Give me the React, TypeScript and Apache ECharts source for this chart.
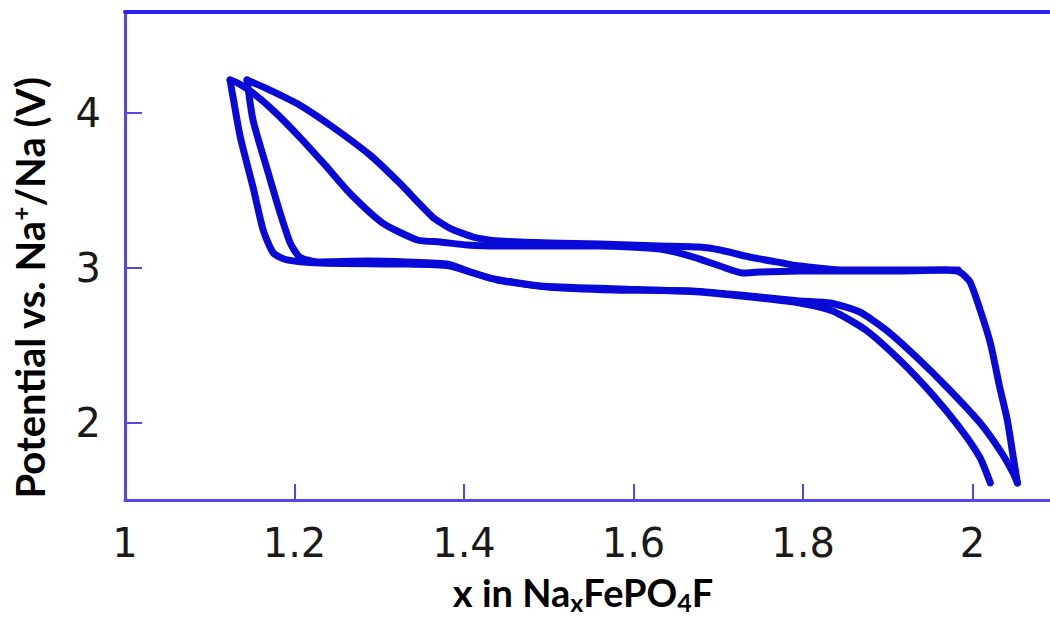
import React, { useEffect, useRef } from "react";
import * as echarts from "echarts";

// Tick positions
const xTicks = [1, 1.2, 1.4, 1.6, 1.8, 2];
const yTicks = [2, 3, 4];

// Galvanostatic cycling of NaxFePO4F: [x, potential (V)]
const charge1: [number, number][] = [
  [1.983, 2.987], [1.914, 2.987], [1.847, 2.987], [1.796, 3.013], [1.776, 3.032],
  [1.737, 3.071], [1.702, 3.116], [1.678, 3.135], [1.631, 3.142], [1.56, 3.155],
  [1.501, 3.161], [1.442, 3.174], [1.411, 3.2], [1.383, 3.258], [1.363, 3.329],
  [1.324, 3.548], [1.289, 3.729], [1.245, 3.91], [1.206, 4.052], [1.171, 4.148],
  [1.144, 4.213],
];

const discharge1: [number, number][] = [
  [1.144, 4.213], [1.151, 3.955], [1.168, 3.632], [1.183, 3.355], [1.195, 3.161],
  [1.206, 3.071], [1.227, 3.039], [1.286, 3.045], [1.38, 3.026], [1.407, 2.974],
  [1.439, 2.923], [1.498, 2.877], [1.576, 2.858], [1.67, 2.852], [1.749, 2.813],
  [1.796, 2.787], [1.832, 2.774], [1.867, 2.716], [1.898, 2.6], [1.935, 2.419],
  [1.973, 2.213], [2.009, 2.0], [2.032, 1.826], [2.048, 1.677], [2.053, 1.613],
];

const charge2: [number, number][] = [
  [2.053, 1.613], [2.048, 1.781], [2.041, 2.019], [2.032, 2.232], [2.021, 2.516],
  [2.009, 2.729], [1.997, 2.91], [1.985, 2.974], [1.968, 2.987], [1.914, 2.981],
  [1.796, 2.981], [1.749, 2.974], [1.729, 2.968], [1.702, 3.013], [1.667, 3.077],
  [1.631, 3.123], [1.56, 3.142], [1.442, 3.142], [1.404, 3.148], [1.372, 3.168],
  [1.345, 3.181], [1.304, 3.29], [1.265, 3.484], [1.236, 3.665], [1.206, 3.845],
  [1.177, 4.006], [1.151, 4.129], [1.133, 4.194], [1.124, 4.213],
];

const discharge2: [number, number][] = [
  [1.124, 4.213], [1.126, 4.148], [1.136, 3.845], [1.151, 3.523], [1.163, 3.245],
  [1.175, 3.097], [1.191, 3.052], [1.23, 3.032], [1.324, 3.026], [1.383, 3.013],
  [1.431, 2.935], [1.49, 2.884], [1.584, 2.865], [1.678, 2.845], [1.749, 2.806],
  [1.796, 2.774], [1.835, 2.723], [1.874, 2.6], [1.914, 2.406], [1.953, 2.181],
  [1.985, 1.968], [2.009, 1.774], [2.021, 1.613],
];

const cycles = [
  { name: "charge 1", data: charge1 },
  { name: "discharge 1", data: discharge1 },
  { name: "charge 2", data: charge2 },
  { name: "discharge 2", data: discharge2 },
];

const X_MIN = 1;
const X_MAX = 2.0914;
const Y_MIN = 1.503;
const Y_MAX = 4.652;

const AXIS_COLOR = "#5248e6";
const TOP_COLOR = "#2f1ff0";
const CURVE_COLOR = "#0a0ad8";
const LABEL_FONT = "'DejaVu Sans', sans-serif";
const TITLE_FONT = "Lato, 'Noto Sans', sans-serif";

export default function App() {
  const ref = useRef<HTMLDivElement>(null);

  useEffect(() => {
    if (!ref.current) return;
    const chart = echarts.init(ref.current, undefined, { renderer: "svg" });

    const fmt = (v: number) => String(+Number(v).toFixed(1));

    chart.setOption({
      animation: false,
      backgroundColor: "#ffffff",
      grid: { left: 125, top: 12, right: 0, bottom: 117, containLabel: false },
      xAxis: [
        {
          type: "value",
          position: "bottom",
          min: X_MIN,
          max: X_MAX,
          axisLine: { show: true, onZero: false, lineStyle: { color: AXIS_COLOR, width: 3 } },
          axisTick: {
            show: true,
            inside: true,
            length: 16,
            customValues: xTicks.slice(1),
            lineStyle: { color: AXIS_COLOR, width: 2 },
          },
          axisLabel: {
            customValues: xTicks,
            margin: 23,
            fontFamily: LABEL_FONT,
            fontSize: 40,
            color: "#1a1a1a",
            formatter: fmt,
          },
          splitLine: { show: false },
        },
        {
          type: "value",
          position: "top",
          min: X_MIN,
          max: X_MAX,
          axisLine: { show: true, onZero: false, lineStyle: { color: TOP_COLOR, width: 4 } },
          axisTick: { show: false },
          axisLabel: { show: false },
          splitLine: { show: false },
        },
      ],
      yAxis: {
        type: "value",
        min: Y_MIN,
        max: Y_MAX,
        axisLine: { show: true, onZero: false, lineStyle: { color: AXIS_COLOR, width: 3 } },
        axisTick: {
          show: true,
          inside: true,
          length: 17,
          customValues: yTicks,
          lineStyle: { color: AXIS_COLOR, width: 2 },
        },
        axisLabel: {
          customValues: yTicks,
          margin: 24,
          fontFamily: LABEL_FONT,
          fontSize: 40,
          color: "#1a1a1a",
          formatter: fmt,
        },
        splitLine: { show: false },
      },
      series: cycles.map((c) => ({
        name: c.name,
        type: "line",
        xAxisIndex: 0,
        data: c.data,
        showSymbol: false,
        smooth: 0.2,
        lineStyle: { color: CURVE_COLOR, width: 7, cap: "round", join: "round" },
        emphasis: { disabled: true },
      })),
      graphic: [
        {
          type: "text",
          x: 30,
          y: 288,
          rotation: Math.PI / 2,
          style: {
            text: "{a|Potential vs. Na}{s|+}{a|/Na (V)}",
            align: "center",
            verticalAlign: "middle",
            fill: "#000",
            rich: {
              a: { fontFamily: TITLE_FONT, fontWeight: 700, fontSize: 40, lineHeight: 44, fill: "#000" },
              s: { fontFamily: TITLE_FONT, fontWeight: 700, fontSize: 24, lineHeight: 18, verticalAlign: "top", fill: "#000" },
            },
          },
        },
        {
          type: "text",
          x: 583,
          y: 592,
          style: {
            text: "{a|x in Na}{b|x}{a|FePO}{b|4}{a|F}",
            align: "center",
            verticalAlign: "middle",
            fill: "#000",
            rich: {
              a: { fontFamily: TITLE_FONT, fontWeight: 700, fontSize: 38, lineHeight: 44, fill: "#000" },
              b: { fontFamily: TITLE_FONT, fontWeight: 700, fontSize: 25, lineHeight: 16, verticalAlign: "bottom", fill: "#000" },
            },
          },
        },
      ],
    });

    return () => chart.dispose();
  }, []);

  return (
    <div
      ref={ref}
      style={{ position: "fixed", left: 0, top: 0, width: 1050, height: 617, background: "#fff" }}
    />
  );
}
